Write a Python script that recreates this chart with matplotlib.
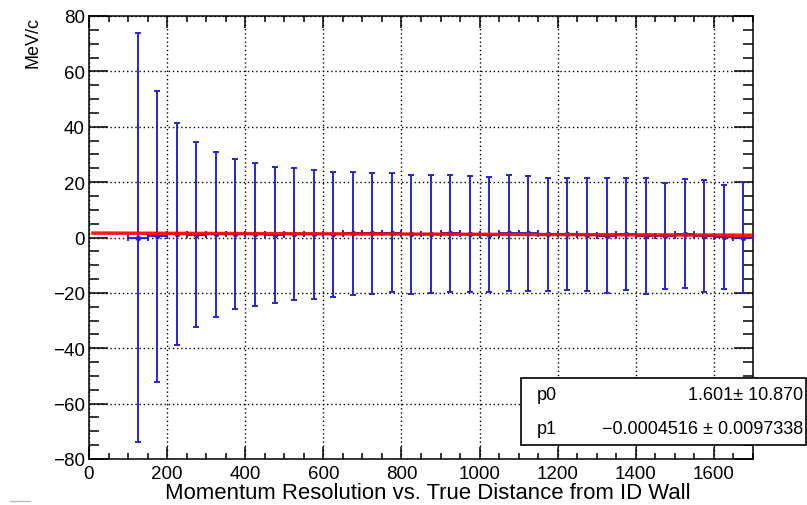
import numpy as np
import matplotlib.pyplot as plt
from matplotlib.ticker import MultipleLocator
from matplotlib.lines import Line2D

plt.rcParams['font.family'] = ['Liberation Sans', 'DejaVu Sans']
plt.rcParams['axes.unicode_minus'] = True

# bin centres (distance from ID wall) and fitted mean / sigma per bin
dist = [125, 175, 225, 275, 325, 375, 425, 475, 525, 575, 625, 675, 725, 775,
        825, 875, 925, 975, 1025, 1075, 1125, 1175, 1225, 1275, 1325, 1375,
        1425, 1475, 1525, 1575, 1625, 1675]
mean = [0.0, 0.4, 1.1, 0.95, 1.15, 1.25, 1.1, 0.9, 1.15, 1.15, 1.1, 1.5, 1.45, 1.65,
        1.15, 1.3, 1.45, 1.25, 0.95, 1.65, 1.45, 1.2, 1.2, 0.95, 0.65, 1.35,
        0.65, 0.6, 1.35, 0.6, 0.05, 0.0]
sigma = [74.0, 52.6, 40.1, 33.4, 29.8, 27.1, 25.7, 24.5, 23.8, 23.4, 22.7, 22.3, 21.8, 21.5,
         21.5, 21.3, 21.2, 21.0, 20.8, 21.0, 20.6, 20.4, 20.2, 20.4, 20.7, 20.2,
         20.9, 19.2, 19.7, 20.2, 18.8, 20.2]
bin_half = 25

# linear fit result
p0, p0_err = 1.601, 10.870
p1, p1_err = -0.0004516, 0.0097338
fit_range = [10, 1695]

fig = plt.figure(figsize=(8.07, 5.06), dpi=100)
ax = fig.add_axes([89 / 807, 1 - 460 / 506, 664 / 807, 443 / 506])

ax.errorbar(dist, mean, yerr=sigma, xerr=bin_half, fmt='o', ms=3,
            color='#2626d0', ecolor='#2626d0', elinewidth=1.4, capsize=2.5,
            capthick=1.4, zorder=3)

xf = np.array(fit_range)
ax.plot(xf, p0 + p1 * xf, color='red', lw=2.5, alpha=0.9, zorder=4)

ax.set_xlim(0, 1700)
ax.set_ylim(-80, 80)
ax.xaxis.set_major_locator(MultipleLocator(200))
ax.xaxis.set_minor_locator(MultipleLocator(50))
ax.yaxis.set_major_locator(MultipleLocator(20))
ax.yaxis.set_minor_locator(MultipleLocator(5))
ax.grid(True, which='major', color='black', linestyle=(0, (1, 2)), linewidth=1)

ax.tick_params(which='both', direction='in', top=True, right=True,
               labelsize=13.5, width=1.1, color='black')
ax.tick_params(axis='x', which='major', length=8.6, pad=4)
ax.tick_params(axis='x', which='minor', length=4.3)
ax.tick_params(axis='y', which='major', length=13.7, pad=3)
ax.tick_params(axis='y', which='minor', length=7.2)
for s in ax.spines.values():
    s.set_linewidth(1.1)

ax.set_xlabel("Momentum Resolution vs. True Distance from ID Wall", fontsize=15.9)
ax.xaxis.set_label_coords(0.511, -0.076, transform=ax.transAxes)
ax.xaxis.label.set_va('center')
ax.set_ylabel("MeV/c", fontsize=13, loc='top', labelpad=8)

# stats box
box = plt.Rectangle((521 / 807, 1 - 446 / 506), 285 / 807, 67 / 506,
                    transform=fig.transFigure, facecolor='white',
                    edgecolor='black', lw=1.2, zorder=10)
fig.add_artist(box)
fig.text(537 / 807, 1 - 396 / 506, "p0", fontsize=13, va='center', zorder=11)
fig.text(537 / 807, 1 - 430 / 506, "p1", fontsize=13, va='center', zorder=11)
fig.text(803 / 807, 1 - 396 / 506, f"{p0:.3f}\u00b1 {p0_err:.3f}", fontsize=13,
         va='center', ha='right', zorder=11)
fig.text(803 / 807, 1 - 430 / 506,
         f"{p1:.7f} \u00b1 {p1_err:.7f}".replace('-', '\u2212'), fontsize=13,
         va='center', ha='right', zorder=11)

fig.add_artist(Line2D([10 / 807, 30 / 807], [1 - 502 / 506] * 2,
                      transform=fig.transFigure, color='#bbbbbb', lw=1))

fig.savefig("out.png", dpi=100)
